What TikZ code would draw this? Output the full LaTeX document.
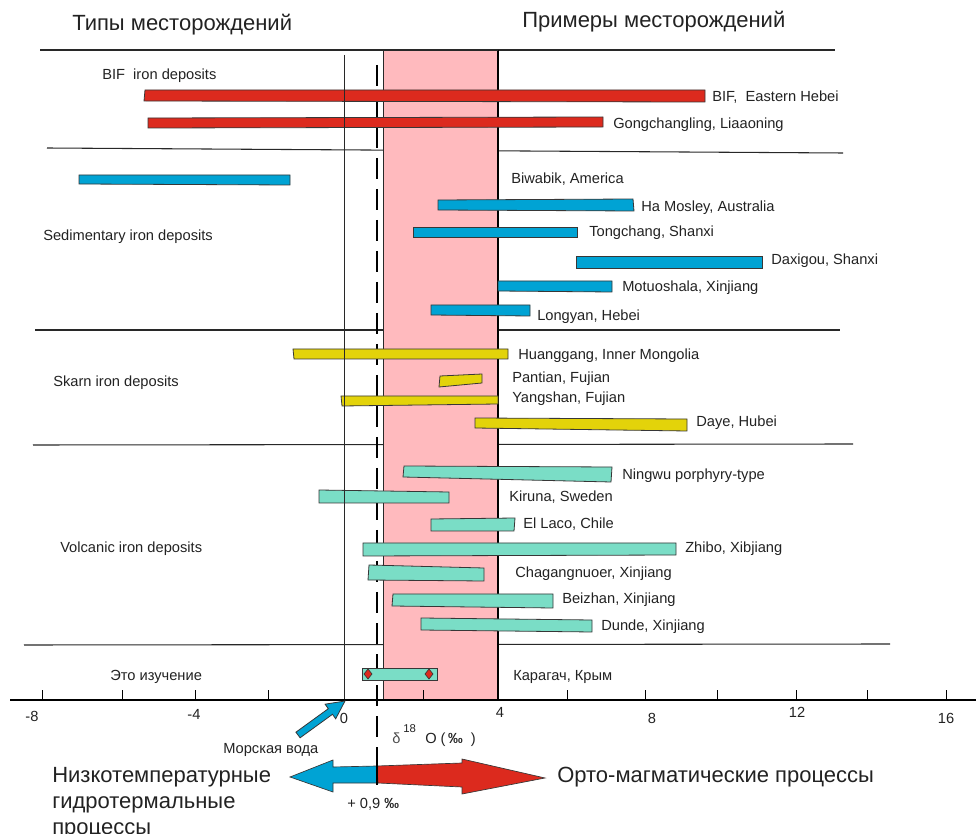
\documentclass[tikz,border=0pt]{standalone}
\usepackage{fontspec}
\setmainfont{Liberation Sans}
\definecolor{cred}{RGB}{220,42,30}
\definecolor{cblue}{RGB}{0,163,212}
\definecolor{cyel}{RGB}{227,211,10}
\definecolor{cteal}{RGB}{122,221,198}
\definecolor{cpink}{RGB}{255,186,190}
\definecolor{txt}{RGB}{34,34,34}
\definecolor{barline}{RGB}{55,55,55}
\definecolor{sepline}{RGB}{40,40,40}
\tikzset{
  lbl/.style={font=\fontsize{11}{13}\selectfont, anchor=base west, inner sep=0pt, text=txt},
  ticklbl/.style={font=\fontsize{11}{13}\selectfont, anchor=base, inner sep=0pt, text=txt},
  bigt/.style={font=\fontsize{16.5}{20}\selectfont, anchor=base west, inner sep=0pt, text=txt},
  barbox/.style={draw=barline, line width=0.6pt},
  sep/.style={draw=sepline, line width=0.8pt},
  tickmark/.style={draw=black, line width=0.7pt},
}
\begin{document}
\begin{tikzpicture}[x=0.75pt, y=-0.75pt]
\useasboundingbox (0,0) rectangle (976,834);

% separators (behind pink band)
\draw[sep] (40,50) -- (835,50);
\draw[sep] (47,148) -- (843,153);
\draw[sep] (35,330) -- (840,330);
\draw[sep] (33,445) -- (853,444);
\draw[sep] (24,645) -- (890,644);

% pink band
\fill[cpink] (383,50) rectangle (498,700);
\draw[draw=sepline, line width=0.6pt] (383,50) -- (383,700);
\draw[draw=black, line width=0.9pt] (498,50) -- (498,700);
\draw[sep] (383,50) -- (498,50);

% dashed line at +0.9
\draw[black, line width=2pt, dash pattern=on 15.75pt off 7.5pt] (377,65) -- (377,770);

% titles
\node[bigt] (t1) at (72,31) {Типы месторождений};
\node[bigt] (t2) at (522,28) {Примеры месторождений};

% left category labels
\node[lbl] (c1) at (102,80) {BIF\ \ iron deposits};
\node[lbl] (c2) at (43,241) {Sedimentary iron deposits};
\node[lbl] (c3) at (53,387) {Skarn iron deposits};
\node[lbl] (c4) at (60,552) {Volcanic iron deposits};
\node[lbl] (c5) at (110,680) {Это изучение};

% red bars
\draw[barbox, fill=cred] (145,90) -- (705,90) -- (705,102) -- (144,101) -- cycle;
\draw[barbox, fill=cred] (148,118) -- (603,117) -- (603,127) -- (148,128) -- cycle;
% blue bars
\draw[barbox, fill=cblue] (79,175) -- (290,175) -- (290,185) -- (79,184) -- cycle;
\draw[barbox, fill=cblue] (438,200) -- (633,199) -- (634,211) -- (438,210) -- cycle;
\draw[barbox, fill=cblue] (413,227) -- (577,227) -- (577,237) -- (413,237) -- cycle;
\draw[barbox, fill=cblue] (576,256) -- (762,256) -- (762,268) -- (576,268) -- cycle;
\draw[barbox, fill=cblue] (498,281) -- (612,281) -- (612,292) -- (498,291) -- cycle;
\draw[barbox, fill=cblue] (431,305) -- (530,305) -- (530,316) -- (431,315) -- cycle;
% yellow bars
\draw[barbox, fill=cyel] (293,349) -- (508,349) -- (508,359) -- (294,359) -- cycle;
\draw[barbox, fill=cyel] (440,376) -- (482,374) -- (482,383) -- (439,387) -- cycle;
\draw[barbox, fill=cyel] (341,396) -- (498,396) -- (498,404) -- (342,406) -- cycle;
\draw[barbox, fill=cyel] (475,418) -- (687,419) -- (687,431) -- (475,428) -- cycle;
% teal bars
\draw[barbox, fill=cteal] (404,466) -- (612,467) -- (611,482) -- (403,477) -- cycle;
\draw[barbox, fill=cteal] (319,490) -- (449,492) -- (449,503) -- (319,503) -- cycle;
\draw[barbox, fill=cteal] (431,519) -- (515,518) -- (514,531) -- (431,531) -- cycle;
\draw[barbox, fill=cteal] (363,543) -- (676,543) -- (676,555) -- (363,556) -- cycle;
\draw[barbox, fill=cteal] (369,565) -- (484,568) -- (484,581) -- (368,580) -- cycle;
\draw[barbox, fill=cteal] (393,594) -- (553,594) -- (553,608) -- (392,606) -- cycle;
\draw[barbox, fill=cteal] (421,618) -- (592,620) -- (592,632) -- (421,630) -- cycle;
% this study
\draw[barbox, fill=cteal] (362,668) rectangle (437,680);
\draw[barbox, fill=cred, line width=0.5pt] (368,669) -- (372,674) -- (368,679) -- (364,674) -- cycle;
\draw[barbox, fill=cred, line width=0.5pt] (429,669) -- (433,674) -- (429,679) -- (425,674) -- cycle;

% thin zero line (over bars)
\draw[draw=sepline, line width=0.6pt] (344,55) -- (344,700);

% deposit labels
\node[lbl] (d1) at (712,102) {BIF,\ \ Eastern Hebei};
\node[lbl] (d2) at (613,129) {Gongchangling, Liaaoning};
\node[lbl] (d3) at (511,184) {Biwabik, America};
\node[lbl] (d4) at (641,212) {Ha Mosley, Australia};
\node[lbl] (d5) at (589,237) {Tongchang, Shanxi};
\node[lbl] (d6) at (771,265) {Daxigou, Shanxi};
\node[lbl] (d7) at (622,292) {Motuoshala, Xinjiang};
\node[lbl] (d8) at (537,321) {Longyan, Hebei};
\node[lbl] (d9) at (518,360) {Huanggang, Inner Mongolia};
\node[lbl] (d10) at (512,383) {Pantian, Fujian};
\node[lbl] (d11) at (512,403) {Yangshan, Fujian};
\node[lbl] (d12) at (696,427) {Daye, Hubei};
\node[lbl] (d13) at (622,480) {Ningwu porphyry-type};
\node[lbl] (d14) at (509,502) {Kiruna, Sweden};
\node[lbl] (d15) at (523,529) {El Laco, Chile};
\node[lbl] (d16) at (685,553) {Zhibo, Xibjiang};
\node[lbl] (d17) at (515,578) {Chagangnuoer, Xinjiang};
\node[lbl] (d18) at (562,604) {Beizhan, Xinjiang};
\node[lbl] (d19) at (601,631) {Dunde, Xinjiang};
\node[lbl] (d20) at (513,680) {Карагач, Крым};

% axis
\draw[black, line width=1pt] (10,700) -- (976,700);
\foreach \xx in {42,122,195,268,423,567,645,717,796,867,946}
  \draw[tickmark] (\xx,700) -- (\xx,690);
\node[ticklbl] (a1) at (32,721) {-8};
\node[ticklbl] (a2) at (194,719) {-4};
\node[ticklbl] (a3) at (344,723) {0};
\node[ticklbl] (a4) at (500,717) {4};
\node[ticklbl] (a5) at (652,723) {8};
\node[ticklbl] (a6) at (797,717) {12};
\node[ticklbl] (a7) at (946,723) {16};

% axis title
\node[lbl, text=black!70] (dl) at (392,743) {δ};
\node[lbl, font=\fontsize{8.5}{10}\selectfont] (d18o) at (403,732) {18};
\node[lbl] (ol) at (425,743) {O (\,\textbf{‰}\ \ )};

% sea water arrow
\draw[barbox, fill=cblue, line width=0.6pt]
  (295.9,732.2) -- (328.3,708.7) -- (325.1,704.2) -- (345,701) -- (335.7,718.8) -- (332.5,714.3) -- (300.1,737.8) -- cycle;
\node[lbl] (sw) at (223,753) {Морская вода};

% big double arrow
\draw[barbox, fill=cblue, line width=0.5pt]
  (377,766) -- (333,767) -- (333,760) -- (290,777) -- (333,792) -- (333,783) -- (378,783) -- cycle;
\draw[barbox, fill=cred, line width=0.5pt]
  (377,766) .. controls (420,764) .. (462,763) -- (462,759) -- (545,778) -- (462,794) -- (462,787) .. controls (420,785) .. (378,783) -- cycle;
\draw[black, line width=1pt] (377,764) -- (377,785);

\node[bigt] (lo1) at (52,782) {Низкотемпературные};
\node[bigt] (lo2) at (52,808) {гидротермальные};
\node[bigt] (lo3) at (52,834) {процессы};
\node[bigt] (hi) at (557,782) {Орто-магматические процессы};
\node[lbl] (pm) at (347,808) {+ 0,9 \textbf{‰}};
\end{tikzpicture}
\end{document}
